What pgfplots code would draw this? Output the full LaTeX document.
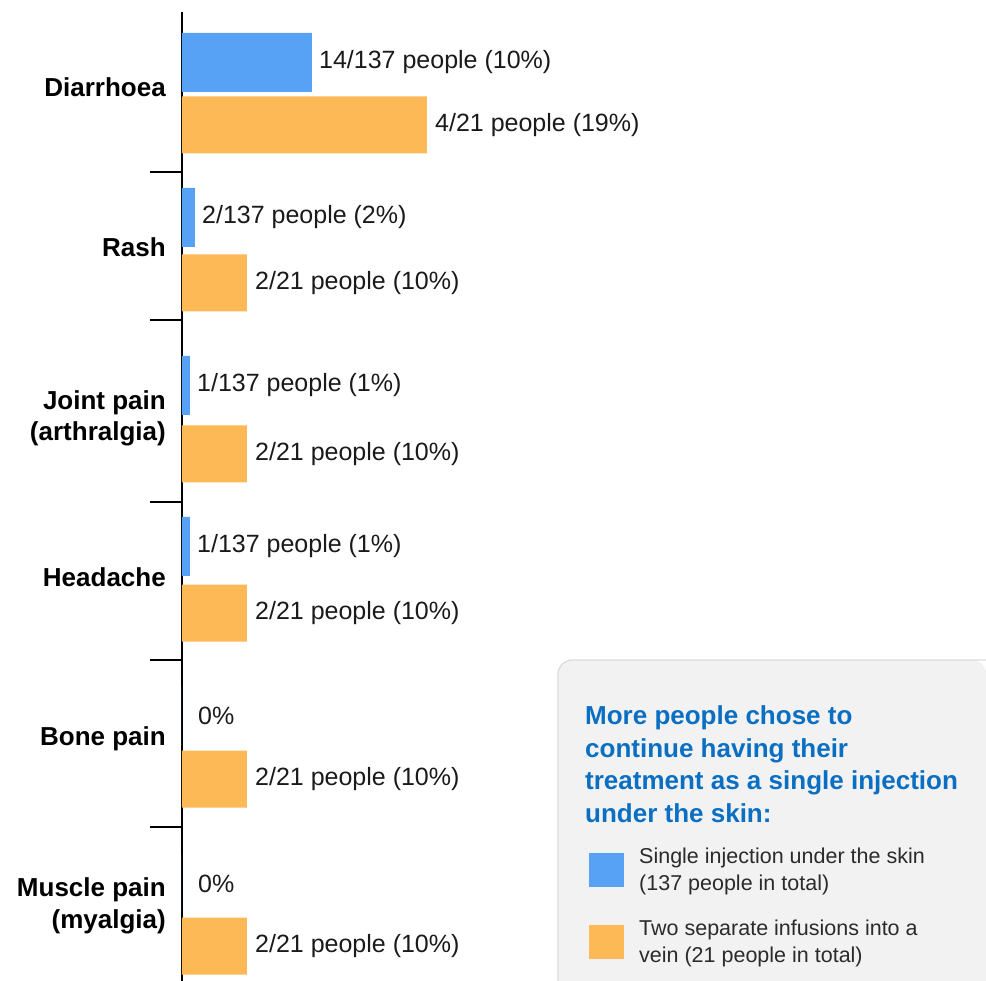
\documentclass[border=0pt]{standalone}
\usepackage{pgfplots}
\pgfplotsset{compat=1.18}
\usepackage{fontspec}
\setmainfont{Liberation Sans}
\definecolor{bblue}{HTML}{57A2F5}
\definecolor{borange}{HTML}{FDB955}
\definecolor{tblue}{HTML}{0A6FC2}
\definecolor{boxgray}{HTML}{F2F2F2}
\definecolor{boxline}{HTML}{DADADA}
\definecolor{txt}{HTML}{1A1A1A}
\definecolor{legtxt}{HTML}{2B2B2B}
\begin{document}
\begin{tikzpicture}
\useasboundingbox (-182pt,0pt) rectangle (804pt,981pt);
\begin{axis}[
  x=1pt, y=1pt,
  xmin=0, xmax=804, ymin=12, ymax=981,
  y dir=reverse,
  enlargelimits=false,
  clip=false,
  axis x line=none,
  axis y line*=left,
  axis line style={line width=2pt, black},
  xtick=\empty,
  ytick={97,257,441,587,745,928},
  yticklabels={Diarrhoea, Rash, {Joint pain\\(arthralgia)}, Headache, Bone pain, {Muscle pain\\(myalgia)}},
  yticklabel style={align=right, anchor=base east, inner sep=0pt, xshift=-16pt,
    font=\bfseries\fontsize{26}{31.5}\selectfont, text=black},
  minor ytick={172,320,502,660,827},
  major tick length=0pt,
  minor tick length=32pt,
  tick align=outside,
  minor tick style={line width=2pt, black},
  major tick style={draw=none},
  every node near coord/.append style={anchor=west, inner sep=0pt,
    font=\fontsize{25}{30}\selectfont, text=txt},
  legend style={at={(axis cs:407,846)}, anchor=north west, draw=none, fill=none,
    inner sep=0pt, font=\fontsize{21.5}{27}\selectfont, text=legtxt,
    row sep=24pt, cells={align=left, anchor=west},
    /tikz/every odd column/.append style={column sep=13pt}},
]
% gray note box
\fill[boxgray] (axis cs:804,981) -- (axis cs:376,981) [rounded corners=14pt]-- (axis cs:376,660) -- (axis cs:804,660) [sharp corners]-- cycle;
\draw[boxline, line width=1.2pt] (axis cs:376,981) [rounded corners=14pt]-- (axis cs:376,660) -- (axis cs:804,660);
\node[anchor=base west, inner sep=0pt, font=\bfseries\fontsize{26}{32}\selectfont, text=tblue] at (axis cs:403,724) {More people chose to};
\node[anchor=base west, inner sep=0pt, font=\bfseries\fontsize{26}{32}\selectfont, text=tblue] at (axis cs:403,757) {continue having their};
\node[anchor=base west, inner sep=0pt, font=\bfseries\fontsize{26}{32}\selectfont, text=tblue] at (axis cs:403,789) {treatment as a single injection};
\node[anchor=base west, inner sep=0pt, font=\bfseries\fontsize{26}{32}\selectfont, text=tblue] at (axis cs:403,822) {under the skin:};

% Single injection under the skin (blue)
\addplot[xbar, bar width=59pt, bar shift=0pt, fill=bblue, draw=none,
  nodes near coords, point meta=explicit symbolic,
  every node near coord/.append style={xshift=7pt},
  legend image code/.code={\fill[bblue] (0pt,-17pt) rectangle (35pt,17pt);}]
  coordinates {
  (130,62.5) [14/137 people (10\%)]
  (13,217.5) [2/137 people (2\%)]
  (8,385.5)  [1/137 people (1\%)]
  (8,546.5)  [1/137 people (1\%)]
  };
\addlegendentry{Single injection under the skin\\(137 people in total)}
% Two separate infusions into a vein (orange)
\addplot[xbar, bar width=57pt, bar shift=0pt, fill=borange, draw=none,
  nodes near coords, point meta=explicit symbolic,
  every node near coord/.append style={xshift=8pt},
  legend image code/.code={\fill[borange] (0pt,-17pt) rectangle (35pt,17pt);}]
  coordinates {
  (245,125) [4/21 people (19\%)]
  (65,283)  [2/21 people (10\%)]
  (65,454)  [2/21 people (10\%)]
  (65,613)  [2/21 people (10\%)]
  (65,779)  [2/21 people (10\%)]
  (65,946)  [2/21 people (10\%)]
  };
\addlegendentry{Two separate infusions into a\\vein (21 people in total)}
% zero values (blue)
\addplot[xbar, bar width=59pt, bar shift=0pt, fill=bblue, draw=none, forget plot,
  nodes near coords, point meta=explicit symbolic,
  every node near coord/.append style={xshift=16pt}]
  coordinates {
  (0,716) [0\%]
  (0,884) [0\%]
  };
\end{axis}
\end{tikzpicture}
\end{document}
